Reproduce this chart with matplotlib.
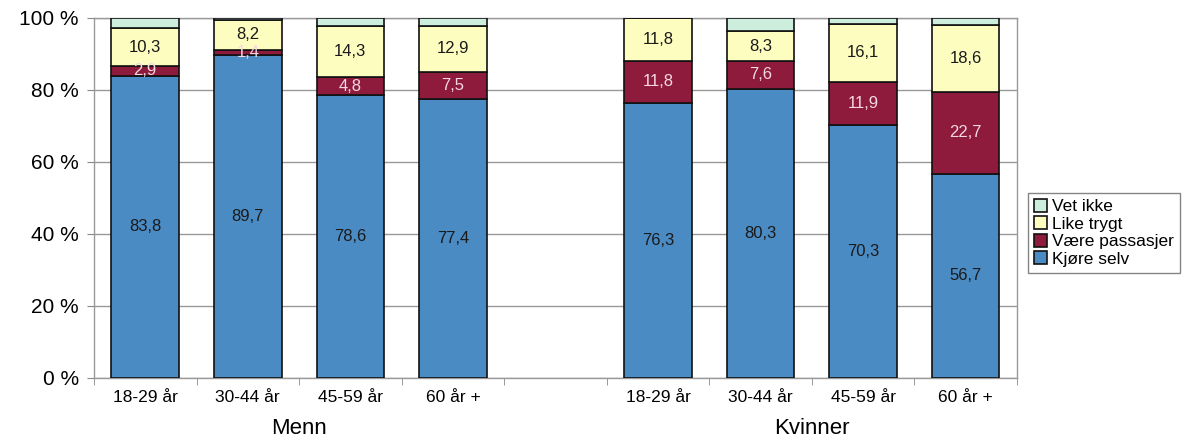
import matplotlib
matplotlib.use("Agg")
import matplotlib.pyplot as plt
import numpy as np
from matplotlib.patches import Patch

plt.rcParams['font.family'] = ['Liberation Sans', 'DejaVu Sans']

age_groups = ["18-29 år", "30-44 år", "45-59 år", "60 år +"]
groups = ["Menn", "Kvinner"]

kjore_menn = [83.8, 89.7, 78.6, 77.4]
passasjer_menn = [2.9, 1.4, 4.8, 7.5]
trygt_menn = [10.3, 8.2, 14.3, 12.9]
vet_menn = [3.0, 0.7, 2.3, 2.2]

kjore_kvinner = [76.3, 80.3, 70.3, 56.7]
passasjer_kvinner = [11.8, 7.6, 11.9, 22.7]
trygt_kvinner = [11.8, 8.3, 16.1, 18.6]
vet_kvinner = [0.1, 3.8, 1.7, 2.0]

series_names = ["Kjøre selv", "Være passasjer", "Like trygt", "Vet ikke"]
colors = ["#4a8bc4", "#8e1a3c", "#fdfdc0", "#cdeedd"]
label_colors = ["#1a1a1a", "#f4d8e4", "#1a1a1a", None]

# 4 bars for men, one empty slot, 4 bars for women
x_men = np.arange(4)
x_women = np.arange(5, 9)
x = np.concatenate([x_men, x_women])
series = [
    kjore_menn + kjore_kvinner,
    passasjer_menn + passasjer_kvinner,
    trygt_menn + trygt_kvinner,
    vet_menn + vet_kvinner,
]

fig = plt.figure(figsize=(11.94, 4.41), dpi=100)
ax = fig.add_axes([0.0787, 0.143, 0.773, 0.817])

bottom = np.zeros(len(x))
for vals, col, lc in zip(series, colors, label_colors):
    vals = np.array(vals)
    ax.bar(x, vals, width=0.66, bottom=bottom, color=col,
           edgecolor="#111111", linewidth=1.2, zorder=3)
    if lc is not None:
        for xi, b, v in zip(x, bottom, vals):
            ax.text(xi, b + v / 2, f"{v:.1f}".replace(".", ","),
                    ha="center", va="center", fontsize=12,
                    color=lc, zorder=4)
    bottom += vals

ax.set_xlim(-0.5, 8.5)
ax.set_ylim(0, 100)
ax.set_yticks(np.arange(0, 101, 20))
ax.set_yticklabels([f"{v} %" for v in range(0, 101, 20)], fontsize=15)
ax.yaxis.grid(True, color="#999999", linewidth=1.0, zorder=0)
ax.tick_params(axis="y", length=5, color="#888888", pad=6)

ax.set_xticks(x)
ax.set_xticklabels(age_groups + age_groups, fontsize=12.5)
ax.tick_params(axis="x", length=0, pad=9)
ax.set_xticks(np.arange(-0.5, 9.0, 1.0), minor=True)
ax.tick_params(axis="x", which="minor", length=5, color="#888888")

for s in ax.spines.values():
    s.set_color("#999999")
    s.set_linewidth(1.0)

ax.text(1.5, -0.14, groups[0], transform=ax.get_xaxis_transform(),
        ha="center", va="center", fontsize=16)
ax.text(6.5, -0.14, groups[1], transform=ax.get_xaxis_transform(),
        ha="center", va="center", fontsize=16)

handles = [Patch(facecolor=c, edgecolor="#111111", linewidth=1.2)
           for c in colors[::-1]]
leg = fig.legend(handles, series_names[::-1], loc="upper left",
                 bbox_to_anchor=(0.861, 0.563), fontsize=12.5,
                 frameon=True, fancybox=False, handlelength=0.75,
                 handleheight=0.75, handletextpad=0.3, labelspacing=0.12,
                 borderpad=0.35, borderaxespad=0)
leg.get_frame().set_edgecolor("#666666")
leg.get_frame().set_linewidth(1.0)

fig.savefig("out.png", dpi=100)
